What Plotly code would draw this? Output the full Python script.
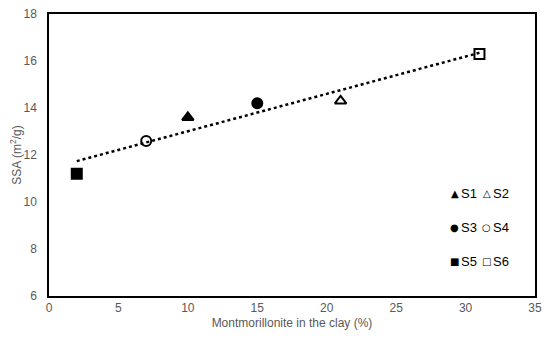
import numpy as np
import plotly.graph_objects as go

samples = ["S1", "S2", "S3", "S4", "S5", "S6"]
montmorillonite = [10, 21, 15, 7, 2, 31]
ssa = [13.6, 14.3, 14.2, 12.6, 11.2, 16.3]
symbols = ["triangle-up", "triangle-up-open", "circle", "circle-open", "square", "square-open"]
legend_glyphs = ["▲", "△", "●", "○", "■", "□"]
x_ticks = [0, 5, 10, 15, 20, 25, 30, 35]
y_ticks = [6, 8, 10, 12, 14, 16, 18]

FONT = "Liberation Sans, Arial, sans-serif"

fig = go.Figure()

slope, intercept = np.polyfit(montmorillonite, ssa, 1)
xs = [min(montmorillonite), max(montmorillonite)]
fig.add_trace(go.Scatter(x=xs, y=[slope * v + intercept for v in xs], mode="lines",
                         line=dict(color="black", width=2.5, dash="dot"), showlegend=False,
                         hoverinfo="skip"))

for s, xv, yv, sym in zip(samples, montmorillonite, ssa, symbols):
    fig.add_trace(go.Scatter(x=[xv], y=[yv], mode="markers", name=s, showlegend=False,
                             marker=dict(symbol=sym, size=10, color="black",
                                         line=dict(color="black", width=2))))

# custom two-column legend (plot-area paper coordinates)
row_y = [0.362, 0.243, 0.123]
col_marker_x = [0.835, 0.901]
col_text_x = [0.843, 0.909]
annotations = []
for i, (s, g) in enumerate(zip(samples, legend_glyphs)):
    r, c = divmod(i, 2)
    annotations.append(dict(x=col_marker_x[c], y=row_y[r], xref="paper", yref="paper",
                            text="<b>" + g + "</b>", showarrow=False, xanchor="center", yanchor="middle",
                            font=dict(family="DejaVu Sans", size=10, color="black")))
    annotations.append(dict(x=col_text_x[c], y=row_y[r], xref="paper", yref="paper",
                            text=s, showarrow=False, xanchor="left", yanchor="middle",
                            font=dict(family=FONT, size=13, color="black")))

# page body has an 8px default margin, so the figure is sized to fit the 550x343 window
fig.update_layout(
    width=542, height=335,
    margin=dict(l=41, r=15, t=4, b=47),
    paper_bgcolor="white", plot_bgcolor="white",
    font=dict(family=FONT, size=12, color="#595959"),
    showlegend=False,
    annotations=annotations,
    xaxis=dict(range=[0, 35], tickvals=x_ticks, showgrid=False, zeroline=False, automargin="height",
               showline=True, linecolor="black", linewidth=1.5, mirror=True, ticks="",
               tickfont=dict(size=12, color="#595959"),
               title=dict(text="Montmorillonite in the clay (%)", font=dict(size=12, color="#595959"), standoff=4)),
    yaxis=dict(range=[6, 18], tickvals=y_ticks, showgrid=False, zeroline=False, automargin=False,
               showline=True, linecolor="black", linewidth=1.5, mirror=True, ticks="",
               ticklabelstandoff=8, ticklabeloverflow="allow", tickfont=dict(size=12, color="#595959"),
               title=dict(text="SSA (m<sup>2</sup>/g)", font=dict(size=12, color="#595959"))),
)

fig.write_html("out.html")
